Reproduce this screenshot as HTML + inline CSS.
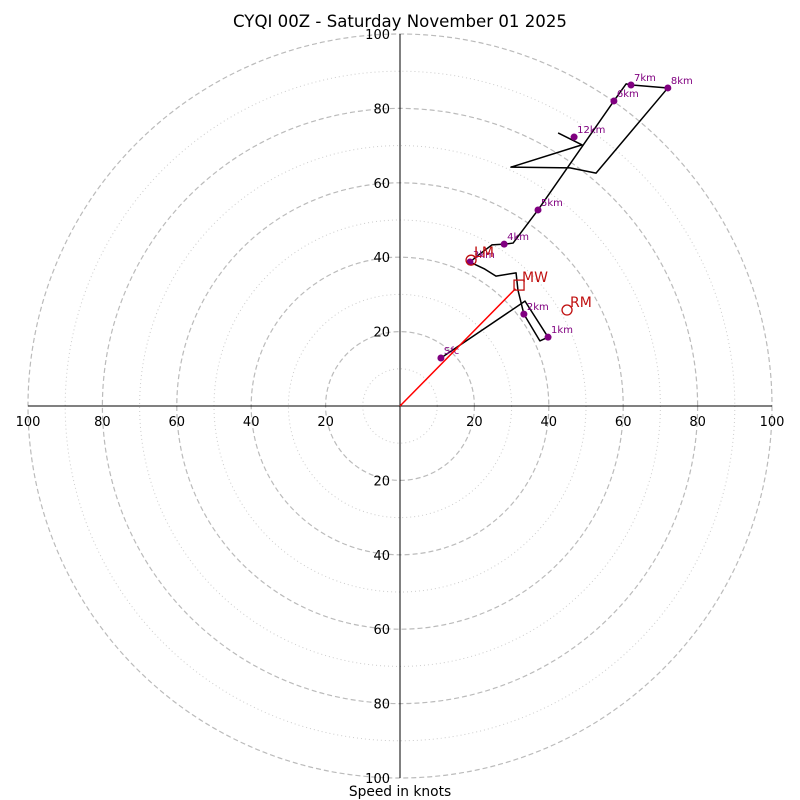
<!DOCTYPE html>
<html><head><meta charset="utf-8"><style>
html,body{margin:0;padding:0;background:#fff}
svg{display:block;font-family:"DejaVu Sans","Liberation Sans",sans-serif}
</style></head><body>
<svg id="c" width="800" height="800" viewBox="0 0 800 800">
<text x="400" y="27" text-anchor="middle" font-size="16.6">CYQI 00Z - Saturday November 01 2025</text>
<g id="grid"></g><g id="axes"></g><g id="trace"></g><g id="marks"></g>
<text x="400" y="796" text-anchor="middle" font-size="13.8">Speed in knots</text>
</svg>
<script>
const ringValues=[10,20,30,40,50,60,70,80,90,100];
const tickLabels=[20,40,60,80,100];
const traceU=[11.0,33.6,39.8,37.6,33.3,31.7,31.2,25.8,22.8,18.8,21.5,24.7,28.0,30.4,37.1,57.5,60.8,62.1,72.0,52.7,45.7,29.8,48.9,42.5];
const traceV=[12.9,28.2,18.5,17.5,24.7,31.2,35.8,34.9,36.8,38.7,40.9,43.3,43.5,43.8,52.7,82.0,86.6,86.3,85.5,62.6,64.0,64.2,70.2,73.4];
const levelLabels=["Sfc","1km","2km","3km","4km","5km","6km","7km","8km","12km"];
const levelU=[11.0,39.8,33.3,18.8,28.0,37.1,57.5,62.1,72.0,46.8];
const levelV=[12.9,18.5,24.7,38.7,43.5,52.7,82.0,86.3,85.5,72.3];
const motionLabels=["LM","MW","RM"];
const motionU=[19.1,32.0,44.9];
const motionV=[39.2,32.5,25.8];
const CX=400,CY=406,S=3.72;
const X=u=>CX+u*S, Y=v=>CY-v*S;
const NS="http://www.w3.org/2000/svg";
function mk(t,p,a){const e=document.createElementNS(NS,t);for(const k in a)e.setAttribute(k,a[k]);p.appendChild(e);return e;}
const g=document.getElementById('grid');
ringValues.forEach(r=>{const major=r%20===0;
const c=mk('circle',g,{cx:CX,cy:CY,r:r*S,fill:'none',stroke:major?'#bbbbbb':'#cccccc','stroke-width':major?1.2:1,'stroke-dasharray':major?'5,3':'1,3'});

});
const ax=document.getElementById('axes');
const h=mk('line',ax,{x1:X(-100),y1:CY,x2:X(100),y2:CY,stroke:'#000','stroke-width':1});


const v=mk('line',ax,{x1:CX,y1:Y(100),x2:CX,y2:Y(-100),stroke:'#000','stroke-width':1});


tickLabels.forEach(t=>{[1,-1].forEach(s=>{
const a=mk('text',ax,{x:X(s*t),y:CY+20,'text-anchor':'middle','font-size':13});a.textContent=t;


const b=mk('text',ax,{x:CX-10,y:Y(s*t)+5,'text-anchor':'end','font-size':13});b.textContent=t;

});});
const tr=document.getElementById('trace');
const pts=traceU.map((u,i)=>X(u)+','+Y(traceV[i])).join(' ');
const pl=mk('polyline',tr,{points:pts,fill:'none',stroke:'#000','stroke-width':1.5,'stroke-linejoin':'round'});


levelLabels.forEach((l,i)=>{
const d=mk('circle',tr,{cx:X(levelU[i]),cy:Y(levelV[i]),r:3.5,fill:'#800080'});


const t=mk('text',tr,{x:X(levelU[i])+3,y:Y(levelV[i])-4,'font-size':10,fill:'#800080'});t.textContent=l;

});
const m=document.getElementById('marks');
const ar=mk('line',m,{x1:X(0),y1:Y(0),x2:X(motionU[1]*0.97),y2:Y(motionV[1]*0.97),stroke:'#ff0000','stroke-width':1.5});


motionLabels.forEach((l,i)=>{const x=X(motionU[i]),y=Y(motionV[i]);let e;
if(l==='MW')e=mk('rect',m,{x:x-5,y:y-5,width:10,height:10,fill:'none',stroke:'#c01010','stroke-width':1.3});
else e=mk('circle',m,{cx:x,cy:y,r:5,fill:'none',stroke:'#c01010','stroke-width':1.3});


const t=mk('text',m,{x:x+3,y:y-3,'font-size':14,fill:'#c01010'});t.textContent=l;

});
</script>
</body></html>
